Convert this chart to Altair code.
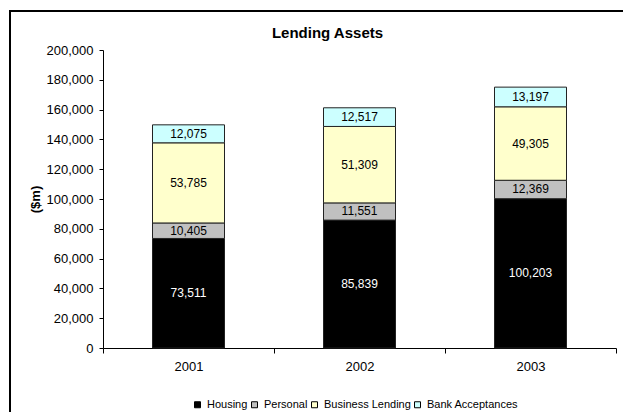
import altair as alt
import pandas as pd

title_text = "Lending Assets"
years = ["2001", "2002", "2003"]
series = ["Housing", "Personal", "Business Lending", "Bank Acceptances"]
colors = ["#000000", "#C0C0C0", "#FFFFCC", "#CCFFFF"]
housing = [73511, 85839, 100203]
personal = [10405, 11551, 12369]
business = [53785, 51309, 49305]
bank = [12075, 12517, 13197]
y_ticks = [0, 20000, 40000, 60000, 80000, 100000, 120000, 140000, 160000, 180000, 200000]

rows = []
for i, y in enumerate(years):
    for k, (s, vals) in enumerate(zip(series, [housing, personal, business, bank])):
        rows.append({"year": y, "series": s, "idx": k, "value": vals[i]})
df = pd.DataFrame(rows)

FONT = "Liberation Sans"

base = alt.Chart(df).transform_stack(
    stack="value", as_=["y0", "y1"], groupby=["year"],
    sort=[alt.SortField("idx", order="ascending")]
).transform_calculate(mid="(datum.y0 + datum.y1) / 2")

x_axis = alt.Axis(labelAngle=0, tickBand="extent", tickSize=5,
                  tickColor="black", domainColor="black",
                  labelFontSize=13, labelFont=FONT, labelColor="black",
                  labelPadding=7)
x_scale = alt.Scale(paddingInner=0, paddingOuter=0)
y_axis = alt.Axis(values=y_ticks, format=",d", labelOverlap=False,
                  grid=False, tickSize=4, tickColor="black",
                  domainColor="black", labelFontSize=13, labelFont=FONT,
                  labelColor="black", labelPadding=6,
                  title="($m)", titleFont=FONT, titleFontSize=13,
                  titleFontWeight="bold", titleColor="black",
                  titleX=-68, titleY=149, titleAngle=270,
                  titleAlign="center", titleBaseline="middle")
y_scale = alt.Scale(domain=[0, 200000], nice=False)

bars = base.mark_bar(size=72, stroke="#222222", strokeWidth=1).encode(
    x=alt.X("year:N", sort=years, title=None, scale=x_scale, axis=x_axis),
    y=alt.Y("y0:Q", scale=y_scale, axis=y_axis),
    y2="y1:Q",
    color=alt.Color("series:N", sort=series,
                    scale=alt.Scale(domain=series, range=colors),
                    legend=alt.Legend(title=None, orient="none", legendX=89, legendY=349,
                                      direction="horizontal", symbolType="square",
                                      symbolSize=36, symbolStrokeColor="black",
                                      symbolStrokeWidth=1, labelFontSize=11,
                                      labelFont=FONT, labelColor="black",
                                      labelOffset=4, columnPadding=1, padding=0)),
    order=alt.Order("idx:Q"),
)

labels = base.mark_text(fontSize=12, font=FONT, baseline="middle").encode(
    x=alt.X("year:N", sort=years, title=None, scale=x_scale, axis=x_axis),
    y=alt.Y("mid:Q", scale=y_scale, axis=y_axis),
    text=alt.Text("value:Q", format=","),
    color=alt.condition(alt.datum.series == "Housing", alt.value("white"), alt.value("black")),
)

frame = alt.Chart(pd.DataFrame({"a": [0]})).mark_rect(
    filled=False, stroke="black", strokeWidth=2
).encode(x=alt.value(-93), x2=alt.value(800), y=alt.value(-39), y2=alt.value(600))

title = alt.Chart(pd.DataFrame({"t": [title_text]})).mark_text(
    font=FONT, fontSize=15, fontWeight="bold", color="black",
    align="center", baseline="alphabetic"
).encode(text="t:N", x=alt.value(224.5), y=alt.value(-12))

chart = alt.layer(frame, bars, labels, title).properties(
    width=513, height=298,
    background="white",
    autosize=alt.AutoSizeParams(type="none"),
    padding={"left": 95, "top": 42, "right": 7, "bottom": 64},
).configure_view(stroke=None)

chart.save("out.html", embed_options={"renderer": "svg", "actions": False})
